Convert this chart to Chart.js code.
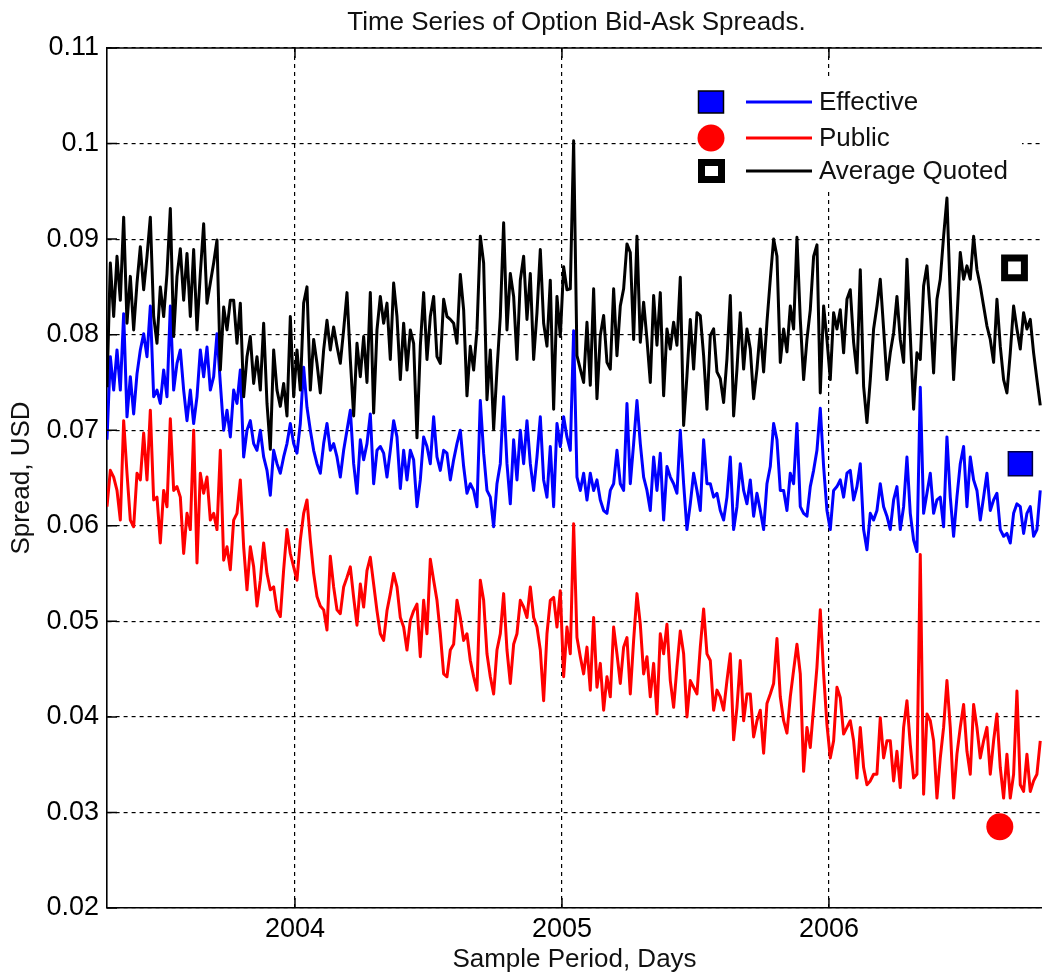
<!DOCTYPE html>
<html>
<head>
<meta charset="utf-8">
<title>Time Series of Option Bid-Ask Spreads</title>
<script src="https://cdn.jsdelivr.net/npm/chart.js@4.4.1/dist/chart.umd.min.js"></script>
<style>
  html, body { margin: 0; padding: 0; background: #fff; }
</style>
</head>
<body>
<canvas id="js_spreads_chart" width="1042" height="975"></canvas>
<script>
const chartTitle = 'Time Series of Option Bid-Ask Spreads.'
const xTitle = 'Sample Period, Days'
const yTitle = 'Spread, USD'
const seriesNames = ['Effective', 'Public', 'Average Quoted']

// one sample every ~3 trading days, from mid April 2003 to Oct 2006
const firstYear = 2003.296
const yearsPerSample = 0.012484
const xMin = 2003.296
const xMax = 2006.798
const yearTicks = [2004, 2005, 2006]
const spreadTicks = [0.02, 0.03, 0.04, 0.05, 0.06, 0.07, 0.08, 0.09, 0.10, 0.11]
const spreadTickLabels = ['0.02', '0.03', '0.04', '0.05', '0.06', '0.07', '0.08', '0.09', '0.1', '0.11']

// Effective spread (blue)
const effectiveSpread = [
  .0690,.0777,.0742,.0784,.0742,.0822,.0714,.0756,.0717,.0759,
  .0784,.0801,.0777,.0830,.0735,.0742,.0728,.0763,.0735,.0830,
  .0742,.0770,.0784,.0742,.0710,.0742,.0707,.0735,.0784,.0756,
  .0787,.0742,.0756,.0801,.0749,.0700,.0721,.0693,.0742,.0728,
  .0763,.0672,.0700,.0710,.0686,.0679,.0700,.0672,.0658,.0632,
  .0679,.0665,.0655,.0672,.0686,.0707,.0686,.0676,.0707,.0766,
  .0724,.0700,.0679,.0665,.0655,.0686,.0707,.0679,.0686,.0672,
  .0651,.0679,.0700,.0721,.0665,.0634,.0690,.0669,.0686,.0717,
  .0644,.0679,.0683,.0676,.0651,.0679,.0710,.0693,.0639,.0679,
  .0648,.0679,.0669,.0620,.0648,.0693,.0683,.0665,.0714,.0672,
  .0658,.0679,.0676,.0648,.0669,.0686,.0700,.0662,.0634,.0644,
  .0637,.0620,.0731,.0676,.0637,.0630,.0599,.0644,.0665,.0735,
  .0665,.0623,.0690,.0648,.0700,.0665,.0710,.0665,.0637,.0672,
  .0714,.0648,.0630,.0683,.0620,.0707,.0683,.0714,.0693,
  .0679,.0804,.0651,.0637,.0655,.0627,.0655,.0637,.0648,.0627,
  .0616,.0613,.0637,.0644,.0679,.0644,.0637,.0728,.0644,.0686,
  .0731,.0686,.0651,.0637,.0616,.0672,.0637,.0676,.0606,.0662,
  .0651,.0644,.0634,.0700,.0644,.0596,.0623,.0655,.0637,.0616,
  .0690,.0644,.0644,.0630,.0634,.0616,.0606,.0630,.0672,.0596,
  .0620,.0665,.0637,.0623,.0648,.0610,.0634,.0616,.0596,.0644,
  .0662,.0707,.0690,.0637,.0637,.0616,.0655,.0644,.0707,
  .0620,.0613,.0610,.0641,.0658,.0679,.0723,.0662,.0616,.0596,
  .0637,.0641,.0648,.0630,.0655,.0658,.0627,.0641,.0665,.0596,
  .0575,.0613,.0606,.0616,.0644,.0620,.0610,.0596,.0627,.0641,
  .0596,.0620,.0672,.0613,.0585,.0573,.0745,.0613,.0634,.0655,
  .0613,.0627,.0630,.0599,.0693,.0630,.0589,.0630,.0665,.0683,
  .0620,.0672,.0648,.0637,.0606,.0630,.0655,.0616,.0627,.0634,
  .0596,.0589,.0592,.0582,.0613,.0623,.0620,.0592,.0613,.0620,
  .0589,.0596,.0637
]

// Public spread (red)
const publicSpread = [
  .0620,.0658,.0651,.0637,.0606,.0710,.0655,.0606,.0599,.0655,
  .0648,.0697,.0648,.0721,.0627,.0630,.0582,.0637,.0620,.0712,
  .0637,.0641,.0630,.0571,.0613,.0596,.0700,.0561,.0655,.0634,
  .0651,.0606,.0613,.0596,.0679,.0564,.0578,.0554,.0606,.0613,
  .0648,.0578,.0533,.0578,.0557,.0516,.0543,.0582,.0550,.0533,
  .0536,.0512,.0505,.0554,.0596,.0571,.0557,.0543,.0585,.0613,
  .0627,.0585,.0550,.0526,.0516,.0512,.0491,.0568,.0536,.0512,
  .0508,.0536,.0546,.0557,.0525,.0496,.0539,.0515,.0553,.0567,
  .0539,.0511,.0487,.0480,.0511,.0529,.0550,.0536,.0504,.0494,
  .0470,.0501,.0511,.0518,.0463,.0522,.0487,.0565,.0543,.0522,
  .0487,.0445,.0442,.0470,.0476,.0522,.0504,.0480,.0487,.0459,
  .0442,.0428,.0543,.0522,.0466,.0442,.0424,.0470,.0487,.0529,
  .0470,.0435,.0476,.0487,.0522,.0515,.0504,.0536,.0504,.0494,
  .0470,.0417,.0487,.0522,.0525,.0494,.0532,.0442,.0494,
  .0466,.0602,.0483,.0463,.0445,.0473,.0428,.0504,.0431,.0456,
  .0407,.0442,.0421,.0494,.0466,.0435,.0473,.0483,.0424,.0480,
  .0529,.0497,.0445,.0463,.0421,.0456,.0403,.0487,.0466,.0497,
  .0438,.0410,.0452,.0490,.0466,.0400,.0438,.0431,.0424,.0473,
  .0513,.0466,.0459,.0407,.0428,.0421,.0407,.0438,.0466,.0376,
  .0410,.0459,.0396,.0424,.0424,.0379,.0396,.0407,.0362,.0414,
  .0424,.0435,.0482,.0421,.0396,.0383,.0421,.0449,.0476,
  .0445,.0343,.0389,.0368,.0410,.0452,.0512,.0445,.0392,.0357,
  .0375,.0431,.0420,.0382,.0389,.0396,.0375,.0336,.0389,.0347,
  .0329,.0333,.0340,.0340,.0399,.0357,.0375,.0375,.0333,.0364,
  .0326,.0389,.0417,.0371,.0336,.0340,.0570,.0319,.0403,.0396,
  .0375,.0315,.0357,.0389,.0438,.0389,.0315,.0361,.0389,.0413,
  .0364,.0340,.0413,.0389,.0357,.0375,.0389,.0340,.0375,.0403,
  .0347,.0315,.0361,.0315,.0340,.0427,.0329,.0322,.0361,.0322,
  .0333,.0340,.0375
]

// Average quoted spread (black)
const quotedSpread = [
  .0745,.0875,.0819,.0882,.0836,.0923,.0812,.0861,.0805,.0854,
  .0892,.0847,.0882,.0923,.0819,.0791,.0850,.0819,.0864,.0932,
  .0798,.0861,.0890,.0836,.0885,.0819,.0889,.0805,.0864,.0916,
  .0833,.0854,.0875,.0899,.0763,.0829,.0805,.0836,.0836,.0791,
  .0833,.0735,.0777,.0798,.0749,.0777,.0742,.0812,.0728,.0680,
  .0784,.0742,.0725,.0749,.0715,.0819,.0735,.0784,.0742,.0833,
  .0850,.0742,.0795,.0770,.0739,.0784,.0815,.0784,.0808,.0788,
  .0770,.0805,.0844,.0774,.0715,.0791,.0756,.0798,.0750,.0844,
  .0718,.0805,.0840,.0812,.0833,.0774,.0854,.0819,.0753,.0812,
  .0763,.0805,.0791,.0692,.0788,.0844,.0774,.0819,.0840,.0777,
  .0770,.0837,.0819,.0816,.0812,.0791,.0863,.0826,.0736,.0788,
  .0763,.0805,.0903,.0875,.0732,.0784,.0701,.0763,.0819,.0917,
  .0805,.0864,.0840,.0774,.0857,.0882,.0816,.0864,.0774,.0823,
  .0889,.0812,.0788,.0857,.0722,.0840,.0798,.0871,.0847,
  .0848,.1003,.0778,.0764,.0750,.0813,.0747,.0848,.0733,.0799,
  .0820,.0771,.0764,.0848,.0778,.0830,.0848,.0895,.0886,.0795,
  .0903,.0792,.0834,.0795,.0750,.0841,.0789,.0844,.0736,.0806,
  .0785,.0813,.0789,.0860,.0705,.0757,.0816,.0764,.0823,.0820,
  .0778,.0722,.0799,.0806,.0761,.0754,.0729,.0775,.0841,.0715,
  .0764,.0823,.0764,.0806,.0785,.0733,.0764,.0806,.0761,.0813,
  .0858,.0900,.0882,.0771,.0806,.0782,.0830,.0806,.0902,
  .0816,.0753,.0795,.0826,.0882,.0894,.0739,.0830,.0795,.0753,
  .0823,.0806,.0826,.0781,.0837,.0847,.0792,.0760,.0868,.0746,
  .0708,.0753,.0806,.0830,.0858,.0806,.0753,.0781,.0802,.0840,
  .0795,.0771,.0879,.0799,.0722,.0781,.0774,.0851,.0872,.0823,
  .0760,.0837,.0858,.0903,.0943,.0840,.0753,.0816,.0886,.0858,
  .0872,.0858,.0903,.0868,.0851,.0830,.0809,.0795,.0771,.0837,
  .0788,.0753,.0739,.0781,.0830,.0806,.0785,.0823,.0806,.0816,
  .0781,.0753,.0726
]

// the three stray markers that sit inside the plot, [year, spread]
const effectiveMark = [2006.717, 0.0665]
const publicMark = [2006.640, 0.0285]
const quotedMark = [2006.695, 0.0870]

const fontFamily = '"Liberation Sans", Arial, Helvetica, sans-serif'
const BLUE = '#0000ff'
const RED = '#ff0000'
const BLACK = '#000000'

function toPoints(values) {
  return values.map((v, i) => ({x: firstYear + i * yearsPerSample, y: v}))
}

// title, top frame line, inward tick marks and the matlab style legend
const framePlugin = {
  id: 'frame',
  afterDraw(chart) {
    const ctx = chart.ctx
    const area = chart.chartArea
    const xs = chart.scales.x
    const ys = chart.scales.y
    ctx.save()

    ctx.strokeStyle = BLACK
    ctx.lineWidth = 1.5
    ctx.beginPath()
    ctx.moveTo(area.left, area.top)
    ctx.lineTo(area.right, area.top)
    ctx.stroke()

    ctx.beginPath()
    yearTicks.forEach(t => {
      const px = xs.getPixelForValue(t)
      ctx.moveTo(px, area.bottom)
      ctx.lineTo(px, area.bottom - 10)
      ctx.moveTo(px, area.top)
      ctx.lineTo(px, area.top + 10)
    })
    spreadTicks.forEach(t => {
      const py = ys.getPixelForValue(t)
      ctx.moveTo(area.left, py)
      ctx.lineTo(area.left + 10, py)
    })
    ctx.stroke()

    ctx.fillStyle = '#111'
    ctx.font = '26px ' + fontFamily
    ctx.textAlign = 'center'
    ctx.textBaseline = 'alphabetic'
    ctx.fillText(chartTitle, (area.left + area.right) / 2 + 2, 30)

    // legend box
    const boxLeft = area.left + 590
    const boxTop = area.top + 32
    ctx.fillStyle = '#fff'
    ctx.fillRect(boxLeft, boxTop, 325, 112)

    const markX = boxLeft + 14
    const lineX1 = boxLeft + 49
    const lineX2 = boxLeft + 115
    const textX = boxLeft + 122
    const rows = [boxTop + 22, boxTop + 58, boxTop + 91]
    const colors = [BLUE, RED, BLACK]

    // blue square
    ctx.fillStyle = BLUE
    ctx.fillRect(markX - 12.5, rows[0] - 11, 25, 22)
    ctx.lineWidth = 1.5
    ctx.strokeStyle = BLACK
    ctx.strokeRect(markX - 12.5, rows[0] - 11, 25, 22)
    // red circle
    ctx.fillStyle = RED
    ctx.beginPath()
    ctx.arc(markX, rows[1], 13.5, 0, Math.PI * 2)
    ctx.fill()
    // open black square
    ctx.lineWidth = 7
    ctx.strokeStyle = BLACK
    ctx.strokeRect(markX - 9.5, rows[2] - 8.5, 20, 17)

    ctx.lineWidth = 3
    rows.forEach((ry, i) => {
      ctx.strokeStyle = colors[i]
      ctx.beginPath()
      ctx.moveTo(lineX1, ry)
      ctx.lineTo(lineX2, ry)
      ctx.stroke()
    })

    ctx.fillStyle = '#111'
    ctx.font = '26px ' + fontFamily
    ctx.textAlign = 'left'
    ctx.textBaseline = 'middle'
    rows.forEach((ry, i) => ctx.fillText(seriesNames[i], textX, ry + 1))

    ctx.restore()
  }
}

function spreadsChart() {
  const lineStyle = {borderWidth: 3, pointRadius: 0, fill: false, borderJoinStyle: 'round'}

  const data = {
    datasets: [
      {
        label: seriesNames[2] + ' marker',
        data: [{x: quotedMark[0], y: quotedMark[1]}],
        showLine: false,
        pointStyle: 'rect',
        pointRadius: 14,
        backgroundColor: '#fff',
        borderColor: BLACK,
        borderWidth: 7,
        order: 0
      },
      {
        label: seriesNames[0] + ' marker',
        data: [{x: effectiveMark[0], y: effectiveMark[1]}],
        showLine: false,
        pointStyle: 'rect',
        pointRadius: 17,
        backgroundColor: BLUE,
        borderColor: '#000044',
        borderWidth: 1.5,
        order: 0
      },
      {
        label: seriesNames[1] + ' marker',
        data: [{x: publicMark[0], y: publicMark[1]}],
        showLine: false,
        pointStyle: 'circle',
        pointRadius: 13.5,
        backgroundColor: RED,
        borderColor: RED,
        borderWidth: 0,
        order: 0
      },
      {label: seriesNames[2], data: toPoints(quotedSpread), borderColor: BLACK, order: 1, ...lineStyle},
      {label: seriesNames[0], data: toPoints(effectiveSpread), borderColor: BLUE, order: 2, ...lineStyle},
      {label: seriesNames[1], data: toPoints(publicSpread), borderColor: RED, order: 3, ...lineStyle}
    ]
  }

  const gridLines = {color: BLACK, lineWidth: 1.2, drawTicks: false}
  const axisBorder = {display: true, color: BLACK, width: 1.6, dash: [4, 4]}

  const options = {
    responsive: false,
    animation: false,
    layout: {autoPadding: false, padding: {top: 48, right: 0, bottom: 0, left: 0}},
    plugins: {
      legend: {display: false},
      tooltip: {enabled: false},
      title: {display: false}
    },
    scales: {
      x: {
        type: 'linear',
        min: xMin,
        max: xMax,
        afterBuildTicks: (scale) => { scale.ticks = yearTicks.map(v => ({value: v})) },
        afterFit: (scale) => {
          scale.height = 67
          scale.paddingLeft = 0
          scale.paddingRight = 0
        },
        ticks: {
          color: BLACK,
          font: {family: fontFamily, size: 27},
          padding: 5,
          maxRotation: 0,
          callback: (v) => String(v)
        },
        grid: gridLines,
        border: axisBorder,
        title: {
          display: true,
          text: xTitle,
          color: '#111',
          font: {family: fontFamily, size: 26},
          padding: {top: 0, bottom: 0}
        }
      },
      y: {
        type: 'linear',
        min: 0.02,
        max: 0.11,
        afterBuildTicks: (scale) => { scale.ticks = spreadTicks.map(v => ({value: v})) },
        afterFit: (scale) => { scale.width = 107 },
        ticks: {
          color: BLACK,
          font: {family: fontFamily, size: 27},
          padding: 8,
          callback: (v, i) => spreadTickLabels[i]
        },
        grid: gridLines,
        border: axisBorder,
        title: {
          display: true,
          text: yTitle,
          color: '#111',
          font: {family: fontFamily, size: 26},
          padding: {top: 6, bottom: 0}
        }
      }
    }
  }

  const config = {
    type: 'line',
    data,
    options,
    plugins: [framePlugin]
  }

  const ctx = document.getElementById('js_spreads_chart').getContext('2d')
  const chart = new Chart(ctx, config)
}

spreadsChart()
</script>
</body>
</html>
